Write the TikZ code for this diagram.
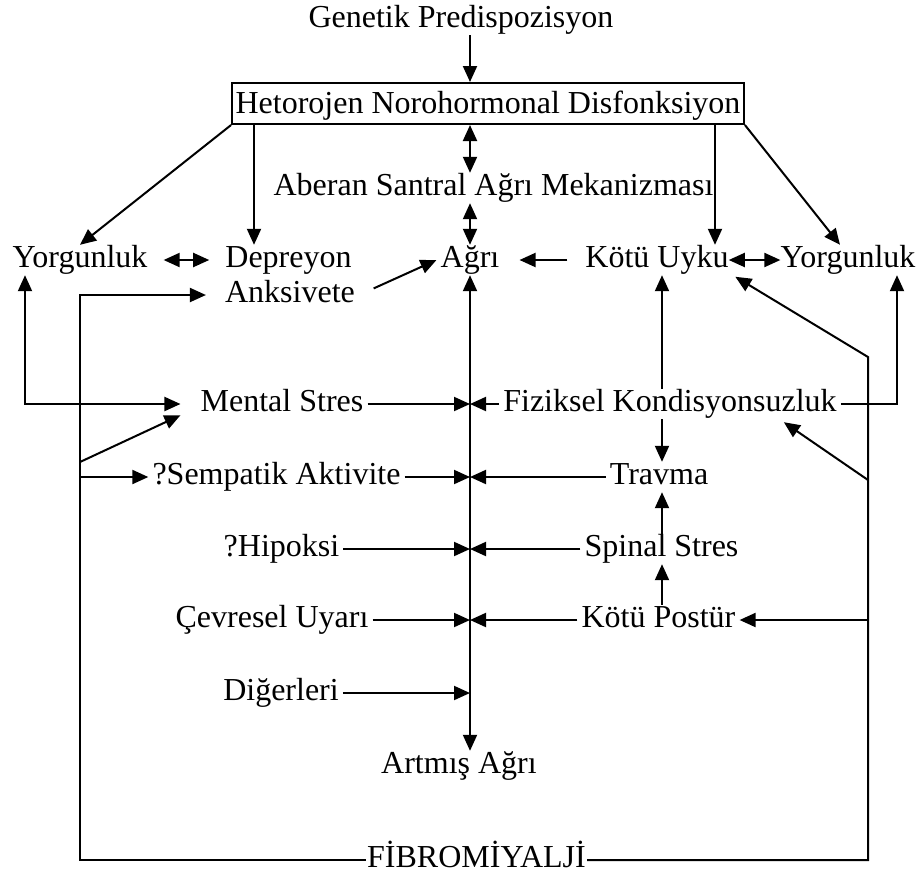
\documentclass[tikz,border=0pt]{standalone}
\usepackage{fontspec}
\setmainfont{Liberation Serif}
\usetikzlibrary{arrows.meta,calc}
\begin{document}
\begin{tikzpicture}[x=1pt,y=-1pt,
  lbl/.style={font=\fontsize{32}{38}\selectfont, text height=22pt, text depth=8pt, inner ysep=0pt, inner xsep=4pt, anchor=base},
  ln/.style={line width=2pt},
  arr/.style={line width=2pt, -{Triangle[length=16pt,width=14pt]}},
  arrb/.style={line width=2pt, {Triangle[length=16pt,width=14pt]}-},
  dbl/.style={line width=2pt, {Triangle[length=16pt,width=14pt]}-{Triangle[length=16pt,width=14pt]}}]
\useasboundingbox (0,0) rectangle (923,879);

% nodes
\node[lbl] (gen) at (461,27) {Genetik Predispozisyon};
\node[lbl, draw, line width=2pt, text height=27pt, inner ysep=3pt, inner xsep=3.5pt] (het) at (488,113) {Hetorojen Norohormonal Disfonksiyon};
\node[lbl] (abr) at (493.5,195) {Aberan Santral Ağrı Mekanizması};
\node[lbl] (yorL) at (80,267) {Yorgunluk};
\node[lbl] (dep) at (288.5,267) {Depreyon};
\node[lbl] (anks) at (290,302) {Anksivete};
\node[lbl] (agri) at (470,267) {Ağrı};
\node[lbl] (uyku) at (657,267) {Kötü Uyku};
\node[lbl] (yorR) at (848,267) {Yorgunluk};
\node[lbl] (ment) at (282,411) {Mental Stres};
\node[lbl] (fiz) at (670,411) {Fiziksel Kondisyonsuzluk};
\node[lbl] (semp) at (276.5,484) {?Sempatik Aktivite};
\node[lbl] (trav) at (659,484) {Travma};
\node[lbl] (hip) at (281.5,556) {?Hipoksi};
\node[lbl] (spin) at (661.5,556) {Spinal Stres};
\node[lbl] (cev) at (272,627) {Çevresel Uyarı};
\node[lbl] (post) at (658.5,627) {Kötü Postür};
\node[lbl] (dig) at (281,700) {Diğerleri};
\node[lbl] (art) at (459,773) {Artmış Ağrı};
\node[lbl, inner xsep=1pt] (fib) at (476.5,867) {FİBROMİYALJİ};

% helper coordinates
\coordinate (cL1) at (25,0);
\coordinate (cL2) at (80,0);
\coordinate (cL3) at (80,462);
\coordinate (cR1) at (868,357);
\coordinate (cR2) at (897,0);
\coordinate (cR3) at (868,480);
\coordinate (cDep) at (254,0);
\coordinate (cUy) at (715,0);
\coordinate (tYR) at (840,0);
\coordinate (cV) at (662,0);

% top part
\draw[arr] (gen.south -| agri) -- (het.north -| agri);
\draw[dbl] (het.south -| agri) -- (abr.north -| agri);
\draw[dbl] (abr.south -| agri) -- (agri.north);
\draw[arr] (het.south west) -- (yorL.north);
\draw[arr] (het.south -| cDep) -- (dep.north -| cDep);
\draw[arr] (het.south -| cUy) -- (uyku.north -| cUy);
\draw[arr] (het.south east) -- (yorR.north -| tYR);

% row of Agri
\draw[dbl, shorten <=12pt, shorten >=12pt] (yorL.east) -- (dep.west);
\draw[arr, shorten <=16pt] (anks.east) -- (agri.west);
\draw[arr, shorten <=14pt, shorten >=16pt] (uyku.west) -- (agri.east);
\draw[dbl, shorten <=-4pt, shorten >=-4pt] (uyku.east) -- (yorR.west);

% left loops
\draw[dbl, shorten >=16pt] (yorL.south -| cL1) -- (ment.west -| cL1) -- (ment.west);
\draw[arr, shorten >=15pt] (fib.west) -| (anks.west -| cL2) -- (anks.west);
\draw[arr] (cL3) -- ($(ment.south west)+(-16,-4)$);
\draw[arr] (semp.west -| cL2) -- (semp.west);

% right loops
\draw[arr, shorten >=3pt] (fib.east) -| (cR1) -- (uyku.south east);
\draw[arr] (cR3) -- ($(fiz.south east)+(-57,3)$);
\draw[arr] (post.east -| cR1) -- (post.east);
\draw[arr] (fiz.east) -| (yorR.south -| cR2);

% right column
\draw[arrb] (uyku.south -| cV) -- (fiz.north -| cV);
\draw[arr] (fiz.south -| cV) -- (trav.north -| cV);
\draw[arr] (spin.north -| cV) -- (trav.south -| cV);
\draw[arr] (post.north -| cV) -- (spin.south -| cV);

% central axis
\draw[dbl] (agri.south) -- (art.north -| agri);
\draw[arr] (ment.east) -- (ment.east -| agri);
\draw[arr] (semp.east) -- (semp.east -| agri);
\draw[arr] (hip.east) -- (hip.east -| agri);
\draw[arr] (cev.east) -- (cev.east -| agri);
\draw[arr] (dig.east) -- (dig.east -| agri);
\draw[arr] (fiz.west) -- (fiz.west -| agri);
\draw[arr] (trav.west) -- (trav.west -| agri);
\draw[arr] (spin.west) -- (spin.west -| agri);
\draw[arr] (post.west) -- (post.west -| agri);
\end{tikzpicture}
\end{document}
